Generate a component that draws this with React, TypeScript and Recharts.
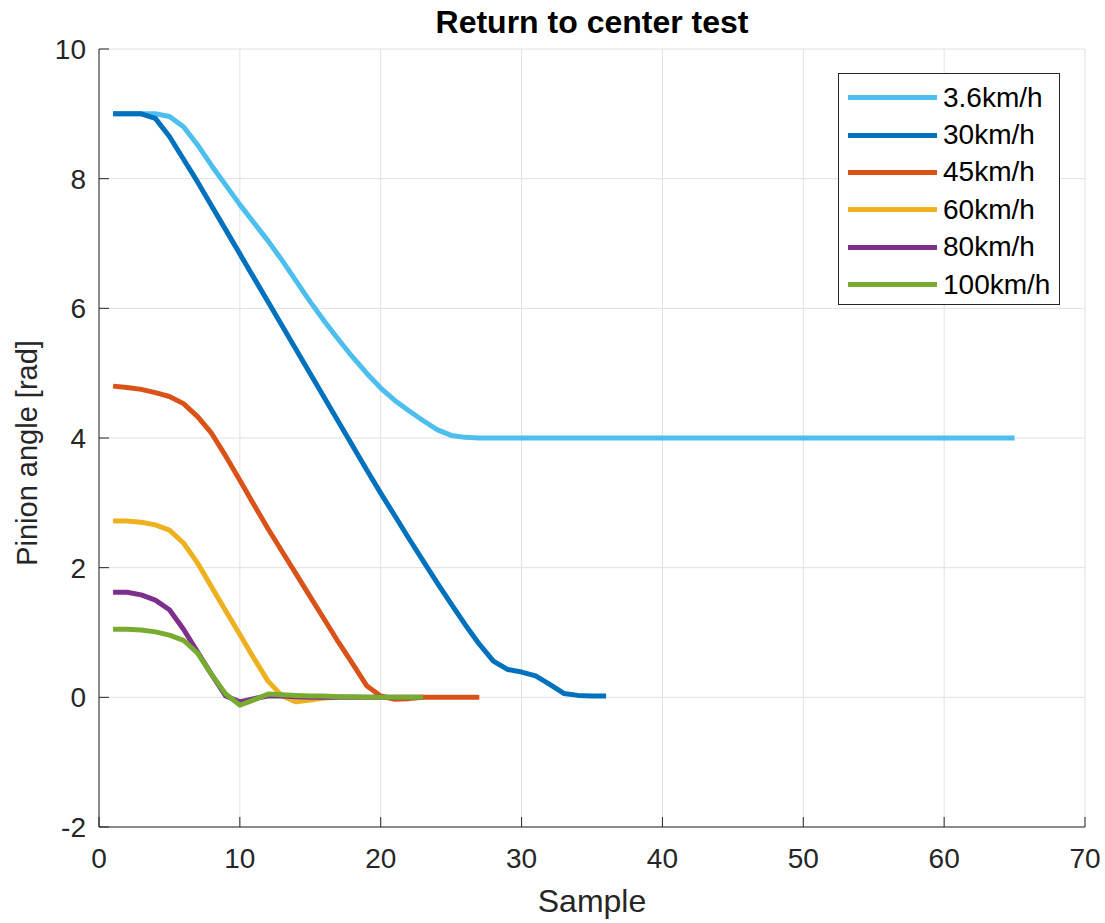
// Return-to-center test: pinion angle vs sample for several vehicle speeds

import { LineChart, Line, XAxis, YAxis, CartesianGrid, Legend } from 'recharts';

const speeds = ['3.6km/h', '30km/h', '45km/h', '60km/h', '80km/h', '100km/h'];
const colors = ['#4DBEEE', '#0072BD', '#D95319', '#EDB120', '#7E2F8E', '#77AC30'];

const angle3_6 = [
  9.0, 9.0, 9.0, 9.0, 8.96, 8.8, 8.52, 8.2, 7.9, 7.6,
  7.32, 7.04, 6.74, 6.42, 6.1, 5.8, 5.52, 5.25, 5.0, 4.77,
  4.58, 4.42, 4.27, 4.13, 4.04, 4.01, 4.0, 4.0, 4.0, 4.0,
  4.0, 4.0, 4.0, 4.0, 4.0, 4.0, 4.0, 4.0, 4.0, 4.0,
  4.0, 4.0, 4.0, 4.0, 4.0, 4.0, 4.0, 4.0, 4.0, 4.0,
  4.0, 4.0, 4.0, 4.0, 4.0, 4.0, 4.0, 4.0, 4.0, 4.0,
  4.0, 4.0, 4.0, 4.0, 4.0,
];
const angle30 = [
  9.0, 9.0, 9.0, 8.93, 8.65, 8.3, 7.95, 7.58, 7.21, 6.84,
  6.47, 6.1, 5.73, 5.36, 4.99, 4.62, 4.25, 3.88, 3.51, 3.15,
  2.8, 2.45, 2.11, 1.77, 1.44, 1.12, 0.82, 0.56, 0.43, 0.39,
  0.33, 0.2, 0.06, 0.03, 0.02, 0.02,
];
const angle45 = [
  4.8, 4.78, 4.75, 4.7, 4.64, 4.53, 4.33, 4.07, 3.72, 3.35,
  2.97, 2.6, 2.25, 1.9, 1.55, 1.2, 0.85, 0.52, 0.18, 0.02,
  -0.03, -0.02, 0.0, 0.0, 0.0, 0.0, 0.0,
];
const angle60 = [
  2.72, 2.72, 2.7, 2.66, 2.58, 2.38, 2.07, 1.7, 1.33, 0.97,
  0.6, 0.25, 0.02, -0.07, -0.04, -0.01, 0.0,
];
const angle80 = [
  1.62, 1.62, 1.58, 1.5, 1.35, 1.05, 0.7, 0.35, 0.02, -0.07,
  -0.02, 0.02, 0.02, 0.01, 0.0, 0.0, 0.0, 0.0, 0.0, 0.0,
  0.0, 0.0, 0.0,
];
const angle100 = [
  1.05, 1.05, 1.04, 1.01, 0.96, 0.88, 0.68, 0.35, 0.05, -0.12,
  -0.04, 0.05, 0.04, 0.03, 0.02, 0.02, 0.01, 0.01, 0.0, 0.0,
  0.0, 0.0, 0.0,
];

const xTicks = [0, 10, 20, 30, 40, 50, 60, 70];
const yTicks = [-2, 0, 2, 4, 6, 8, 10];

const allSeries = [angle3_6, angle30, angle45, angle60, angle80, angle100];

const FONT = '"Liberation Sans", Arial, Helvetica, sans-serif';
const AXIS_COLOR = '#262626';

function toPoints(values: number[]) {
  return values.map((y, i) => ({ x: i + 1, y }));
}

function XTick({ x, y, payload }: any) {
  return (
    <g>
      <line x1={x} x2={x} y1={y} y2={y - 10} stroke={AXIS_COLOR} strokeWidth={1} />
      <text x={x} y={y + 41} textAnchor="middle" fontSize={28} fill={AXIS_COLOR} fontFamily={FONT}>
        {payload.value}
      </text>
    </g>
  );
}

function YTick({ x, y, payload }: any) {
  return (
    <g>
      <line x1={x} x2={x + 10} y1={y} y2={y} stroke={AXIS_COLOR} strokeWidth={1} />
      <text x={x - 13} y={y + 10} textAnchor="end" fontSize={28} fill={AXIS_COLOR} fontFamily={FONT}>
        {payload.value}
      </text>
    </g>
  );
}

// legend order follows the series arrays, not the payload order
function LegendBox() {
  return (
    <div
      style={{
        width: 222,
        height: 232,
        boxSizing: 'border-box',
        border: `1px solid ${AXIS_COLOR}`,
        background: '#fff',
        paddingTop: 5,
      }}
    >
      {speeds.map((s, i) => (
        <div key={s} style={{ display: 'flex', alignItems: 'center', height: 37.4 }}>
          <div style={{ width: 89, height: 5, marginLeft: 9, background: colors[i] }} />
          <span style={{ marginLeft: 6, fontSize: 28, fontFamily: FONT, color: '#000', lineHeight: 1 }}>
            {s}
          </span>
        </div>
      ))}
    </div>
  );
}

export default function App() {
  return (
    <div style={{ position: 'absolute', left: 0, top: 0, width: 1105, height: 923, background: '#fff' }}>
      <div
        style={{
          position: 'absolute',
          left: 99,
          width: 986,
          top: 4,
          textAlign: 'center',
          fontFamily: FONT,
          fontWeight: 'bold',
          fontSize: 32,
          color: '#000',
        }}
      >
        Return to center test
      </div>
      <LineChart width={1105} height={923} margin={{ top: 49, right: 20, bottom: 36, left: 29 }}>
        <CartesianGrid stroke="#e0e0e0" strokeWidth={1} />
        <XAxis
          type="number"
          dataKey="x"
          domain={[0, 70]}
          ticks={xTicks}
          height={60}
          tickSize={0}
          tickMargin={0}
          tick={<XTick />}
          tickLine={false}
          axisLine={{ stroke: AXIS_COLOR, strokeWidth: 1 }}
          allowDataOverflow
        />
        <YAxis
          type="number"
          dataKey="y"
          domain={[-2, 10]}
          ticks={yTicks}
          width={70}
          tickSize={0}
          tickMargin={0}
          tick={<YTick />}
          tickLine={false}
          axisLine={{ stroke: AXIS_COLOR, strokeWidth: 1 }}
          allowDataOverflow
        />
        <Legend
          layout="vertical"
          align="center"
          verticalAlign="middle"
          content={<LegendBox />}
          wrapperStyle={{ left: 838, top: 73, width: 222, height: 232 }}
        />
        {allSeries.map((values, i) => (
          <Line
            key={speeds[i]}
            name={speeds[i]}
            data={toPoints(values)}
            dataKey="y"
            type="linear"
            stroke={colors[i]}
            strokeWidth={5}
            strokeLinejoin="round"
            dot={false}
            activeDot={false}
            isAnimationActive={false}
          />
        ))}
      </LineChart>
      <div
        style={{
          position: 'absolute',
          left: 99,
          width: 986,
          top: 883,
          textAlign: 'center',
          fontFamily: FONT,
          fontSize: 32,
          color: AXIS_COLOR,
        }}
      >
        Sample
      </div>
      <div
        style={{
          position: 'absolute',
          left: 27,
          top: 453,
          transform: 'translate(-50%, -50%) rotate(-90deg)',
          whiteSpace: 'nowrap',
          fontFamily: FONT,
          fontSize: 29,
          color: AXIS_COLOR,
        }}
      >
        Pinion angle [rad]
      </div>
    </div>
  );
}
